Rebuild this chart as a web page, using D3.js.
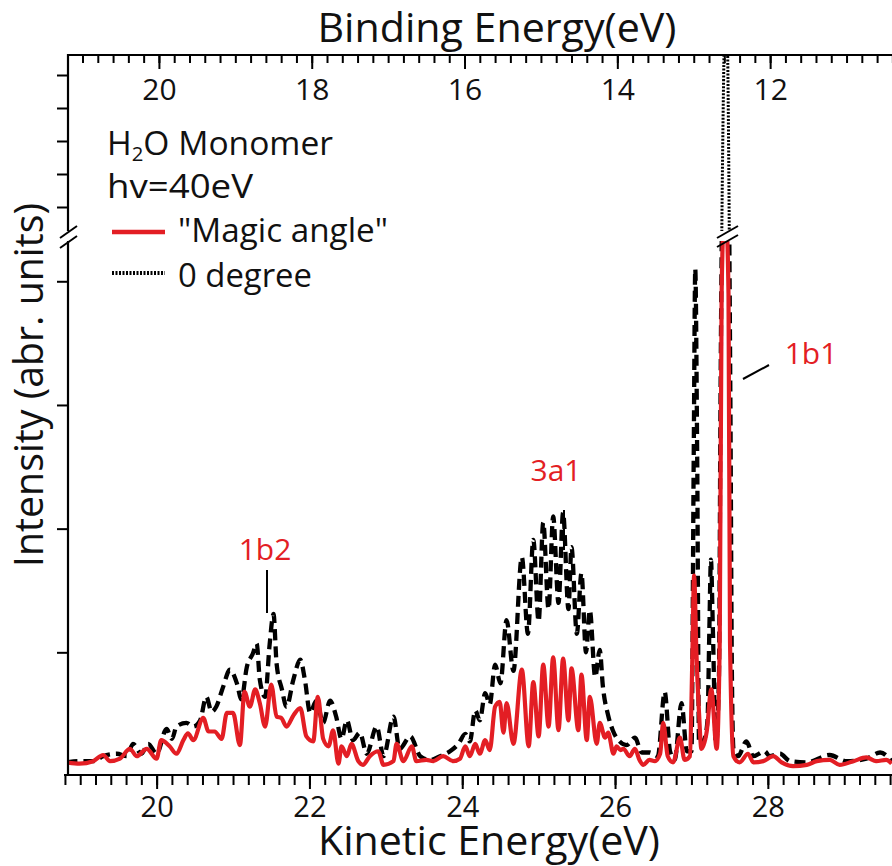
<!DOCTYPE html>
<html><head><meta charset="utf-8">
<script src="https://cdn.jsdelivr.net/npm/d3@7"></script>
<style>body{margin:0;background:#fff} text{font-family:"Open Sans",sans-serif;fill:#111}</style>
</head><body>
<svg id="c" width="892" height="866"></svg>
<script>
// ---- data ----
const redKE = [18.82,18.99,19.17,19.30,19.39,19.52,19.65,19.74,19.87,20.00,20.06,20.17,20.26,20.35,20.41,20.48,20.61,20.68,20.76,20.85,20.92,21.00,21.09,21.15,21.22,21.29,21.35,21.42,21.50,21.57,21.63,21.70,21.79,21.88,21.96,22.05,22.11,22.18,22.25,22.31,22.38,22.42,22.49,22.55,22.64,22.70,22.79,22.90,22.97,23.10,23.14,23.23,23.34,23.40,23.53,23.62,23.75,23.88,23.97,24.04,24.10,24.17,24.23,24.30,24.36,24.43,24.49,24.54,24.58,24.67,24.78,24.87,24.93,25.00,25.06,25.13,25.19,25.26,25.32,25.39,25.43,25.52,25.56,25.63,25.67,25.76,25.80,25.87,25.91,25.98,26.02,26.07,26.11,26.19,26.26,26.32,26.37,26.45,26.52,26.59,26.63,26.69,26.76,26.85,26.91,26.98,27.01,27.035,27.065,27.10,27.13,27.20,27.26,27.33,27.37,27.395,27.42,27.46,27.485,27.505,27.55,27.63,27.74,27.81,27.94,28.07,28.18,28.33,28.51,28.64,28.81,28.94,29.12,29.29,29.42,29.55,29.62];
const redI = [0.11,0.10,0.12,0.17,0.12,0.14,0.22,0.16,0.22,0.14,0.29,0.24,0.18,0.29,0.345,0.29,0.47,0.36,0.36,0.30,0.51,0.51,0.25,0.68,0.56,0.70,0.59,0.40,0.74,0.48,0.47,0.40,0.49,0.55,0.32,0.28,0.64,0.30,0.24,0.37,0.10,0.24,0.16,0.26,0.12,0.09,0.16,0.20,0.09,0.12,0.26,0.12,0.24,0.12,0.13,0.12,0.16,0.12,0.14,0.24,0.16,0.26,0.18,0.29,0.21,0.56,0.60,0.35,0.59,0.26,0.86,0.24,0.76,0.32,0.90,0.40,0.96,0.37,0.95,0.45,0.87,0.37,0.82,0.29,0.64,0.26,0.43,0.31,0.35,0.18,0.24,0.21,0.22,0.16,0.22,0.13,0.09,0.13,0.12,0.18,0.43,0.16,0.11,0.31,0.13,0.16,0.90,1.62,1.00,0.50,0.22,0.36,0.70,0.22,1.08,3.9,4.5,4.5,3.9,1.08,0.16,0.11,0.18,0.11,0.12,0.16,0.11,0.08,0.09,0.12,0.13,0.09,0.12,0.15,0.12,0.13,0.10];
const blackKE = [18.82,18.99,19.17,19.30,19.48,19.61,19.69,19.80,19.89,20.00,20.13,20.20,20.26,20.39,20.48,20.57,20.65,20.72,20.78,20.87,20.96,21.05,21.11,21.18,21.26,21.31,21.35,21.42,21.48,21.53,21.57,21.64,21.70,21.79,21.88,21.94,22.01,22.09,22.18,22.27,22.35,22.42,22.49,22.57,22.66,22.75,22.88,22.97,23.10,23.18,23.32,23.45,23.58,23.71,23.84,23.95,24.04,24.10,24.17,24.23,24.30,24.36,24.43,24.50,24.58,24.67,24.78,24.86,24.93,25.00,25.06,25.13,25.19,25.26,25.32,25.39,25.43,25.50,25.56,25.62,25.67,25.74,25.80,25.84,25.91,25.97,26.06,26.15,26.26,26.35,26.45,26.56,26.65,26.72,26.78,26.87,26.94,27.00,27.03,27.05,27.075,27.10,27.17,27.21,27.235,27.255,27.28,27.32,27.36,27.38,27.425,27.45,27.475,27.51,27.53,27.55,27.61,27.72,27.81,27.96,28.02,28.16,28.29,28.51,28.81,29.03,29.29,29.47,29.62];
const blackI = [0.11,0.12,0.12,0.16,0.18,0.16,0.26,0.18,0.26,0.18,0.38,0.30,0.40,0.43,0.40,0.45,0.64,0.52,0.56,0.72,0.86,0.75,0.62,0.88,0.99,1.07,0.78,0.64,1.07,1.31,0.91,0.70,0.56,0.78,0.94,0.78,0.51,0.61,0.43,0.61,0.48,0.30,0.45,0.29,0.35,0.18,0.40,0.16,0.48,0.22,0.32,0.16,0.13,0.16,0.20,0.26,0.34,0.28,0.53,0.45,0.67,0.58,0.90,0.75,1.26,0.85,1.77,1.15,1.91,1.25,2.05,1.35,2.10,1.40,2.13,1.35,1.85,1.15,1.64,1.00,1.34,0.80,1.02,0.73,0.49,0.37,0.28,0.25,0.31,0.19,0.19,0.16,0.68,0.20,0.13,0.59,0.20,0.20,2.6,4.10,2.6,0.25,0.30,0.45,1.2,1.75,1.2,0.25,0.8,3.0,9.5,12,9.5,3.0,0.8,0.22,0.16,0.28,0.16,0.20,0.16,0.18,0.12,0.11,0.17,0.12,0.14,0.19,0.12];
const kineticMajor = [20,22,24,26,28];
const bindingMajor = [20,18,16,14,12];
const intensityTicksLow = [1,2,3,4];
const intensityTicksHigh = [5,6,7,8,9];
const peakLabels = ["1b2","3a1","1b1"];
const legendLines = ["H2O Monomer","hv=40eV","\"Magic angle\"","0 degree"];
const hvOffset = 40.03; // BE = hvOffset - KE

const RED = "#e31e24";
const svg = d3.select("#c");

const x = d3.scaleLinear().domain([18.84, 29.625]).range([68, 892]);
const xTop = d3.scaleLinear().domain([hvOffset-18.84, hvOffset-29.625]).range([68, 892]);
const y = d3.scaleLinear().domain([0, 4.35, 5, 10]).range([776, 238, 207, 42]);

const defs = svg.append("defs");
defs.append("clipPath").attr("id","low").append("rect").attr("x",68).attr("y",241).attr("width",830).attr("height",540);
defs.append("clipPath").attr("id","high").append("rect").attr("x",68).attr("y",55).attr("width",830).attr("height",176);

const line = d3.line().x(d=>x(d[0])).y(d=>y(d[1])).curve(d3.curveMonotoneX);
const redData = redKE.map((k,i)=>[k, redI[i]]);
const blackData = blackKE.map((k,i)=>[k, blackI[i]]);

// black dashed (lower part)
svg.append("path").attr("d", line(blackData)).attr("clip-path","url(#low)")
  .attr("fill","none").attr("stroke","#000").attr("stroke-width",4.3).attr("stroke-dasharray","11,6");
// black above break (fine dotted)
svg.append("path").attr("d", line(blackData)).attr("clip-path","url(#high)")
  .attr("fill","none").attr("stroke","#000").attr("stroke-width",3).attr("stroke-dasharray","2,1.5");
// red
svg.append("path").attr("d", line(redData)).attr("clip-path","url(#low)")
  .attr("fill","none").attr("stroke",RED).attr("stroke-width",4.2).attr("stroke-linejoin","round");

// bottom axis
const gb = svg.append("g").attr("transform","translate(0,775)");
gb.call(d3.axisBottom(x).tickValues(d3.range(94,149).map(i=>i/5)).tickSize(10).tickFormat(""));
gb.call(g=>g.select(".domain").remove());
const gb2 = svg.append("g").attr("transform","translate(0,775)");
gb2.call(d3.axisBottom(x).tickValues(kineticMajor).tickSize(14).tickPadding(7).tickFormat(d3.format("d")));
gb2.select(".domain").remove();
gb2.selectAll("text").attr("font-size",29).attr("font-family","Open Sans").attr("fill","#111");
svg.selectAll("g line").attr("stroke","#000").attr("stroke-width",2);
svg.append("line").attr("x1",64).attr("x2",892).attr("y1",775).attr("y2",775).attr("stroke","#000").attr("stroke-width",2.2);

// top axis (ticks inward)
const gt = svg.append("g").attr("transform","translate(0,55)");
gt.call(d3.axisBottom(xTop).tickValues(d3.range(52,106).map(i=>i/5)).tickSize(8).tickFormat(""));
gt.select(".domain").remove();
const gt2 = svg.append("g").attr("transform","translate(0,55)");
gt2.call(d3.axisBottom(xTop).tickValues(bindingMajor).tickSize(14).tickPadding(10).tickFormat(d3.format("d")));
gt2.select(".domain").remove();
gt2.selectAll("text").attr("font-size",30).attr("font-family","Open Sans").attr("fill","#111");
gt.selectAll("line").attr("stroke","#000").attr("stroke-width",2);
gt2.selectAll("line").attr("stroke","#000").attr("stroke-width",2);
svg.append("line").attr("x1",68).attr("x2",892).attr("y1",55).attr("y2",55).attr("stroke","#000").attr("stroke-width",2.2);

// left axis (broken)
const gl = svg.append("g").attr("transform","translate(68,0)");
gl.call(d3.axisLeft(y).tickValues(intensityTicksLow.concat(intensityTicksHigh)).tickSize(11).tickFormat(""));
gl.select(".domain").remove();
gl.selectAll("line").attr("stroke","#000").attr("stroke-width",2);
svg.append("line").attr("x1",68).attr("x2",68).attr("y1",54).attr("y2",231).attr("stroke","#000").attr("stroke-width",2.2);
svg.append("line").attr("x1",68).attr("x2",68).attr("y1",241).attr("y2",776).attr("stroke","#000").attr("stroke-width",2.2);
[[60,238,77,226],[60,248,77,236]].forEach(s=>svg.append("line").attr("x1",s[0]).attr("y1",s[1]).attr("x2",s[2]).attr("y2",s[3]).attr("stroke","#000").attr("stroke-width",2));
// break marks on the 1b1 peak
[[717,238,738,226],[717,247,738,235]].forEach(s=>svg.append("line").attr("x1",s[0]).attr("y1",s[1]).attr("x2",s[2]).attr("y2",s[3]).attr("stroke","#000").attr("stroke-width",2));

// axis titles
svg.append("text").attr("x",497).attr("y",42).attr("text-anchor","middle").attr("font-size",40)
  .attr("textLength",359).attr("lengthAdjust","spacingAndGlyphs").text("Binding Energy(eV)");
svg.append("text").attr("x",489).attr("y",855).attr("text-anchor","middle").attr("font-size",40)
  .attr("textLength",342).attr("lengthAdjust","spacingAndGlyphs").text("Kinetic Energy(eV)");
svg.append("text").attr("transform","translate(43,385) rotate(-90)").attr("text-anchor","middle").attr("font-size",40)
  .attr("textLength",364).attr("lengthAdjust","spacingAndGlyphs").text("Intensity (abr. units)");

// legend
const t1 = svg.append("text").attr("x",107).attr("y",155).attr("font-size",33).attr("textLength",226).attr("lengthAdjust","spacingAndGlyphs");
t1.append("tspan").text("H");
t1.append("tspan").attr("font-size",20).attr("dy",6).text("2");
t1.append("tspan").attr("dy",-6).text("O Monomer");
svg.append("text").attr("x",107).attr("y",198).attr("font-size",33).attr("textLength",146).attr("lengthAdjust","spacingAndGlyphs").text(legendLines[1]);
svg.append("line").attr("x1",112).attr("x2",165).attr("y1",232).attr("y2",232).attr("stroke",RED).attr("stroke-width",4.5);
svg.append("text").attr("x",178).attr("y",242).attr("font-size",33).attr("textLength",210).attr("lengthAdjust","spacingAndGlyphs").text(legendLines[2]);
svg.append("line").attr("x1",112).attr("x2",165).attr("y1",273).attr("y2",273).attr("stroke","#000").attr("stroke-width",4).attr("stroke-dasharray","2,1.5");
svg.append("text").attr("x",178).attr("y",287).attr("font-size",33).attr("textLength",134).attr("lengthAdjust","spacingAndGlyphs").text(legendLines[3]);

// peak labels with leader lines
const lab = [
  {t:peakLabels[0], x:265, y:560, l:[267,570,267,613]},
  {t:peakLabels[1], x:556, y:481, l:[564,510,564,550]},
  {t:peakLabels[2], x:811, y:364, l:[743,379,769,365]}
];
lab.forEach(d=>{
  svg.append("text").attr("x",d.x).attr("y",d.y).attr("text-anchor","middle").attr("font-size",30).style("fill",RED).text(d.t);
  svg.append("line").attr("x1",d.l[0]).attr("y1",d.l[1]).attr("x2",d.l[2]).attr("y2",d.l[3]).attr("stroke","#000").attr("stroke-width",2);
});
</script>
</body></html>
